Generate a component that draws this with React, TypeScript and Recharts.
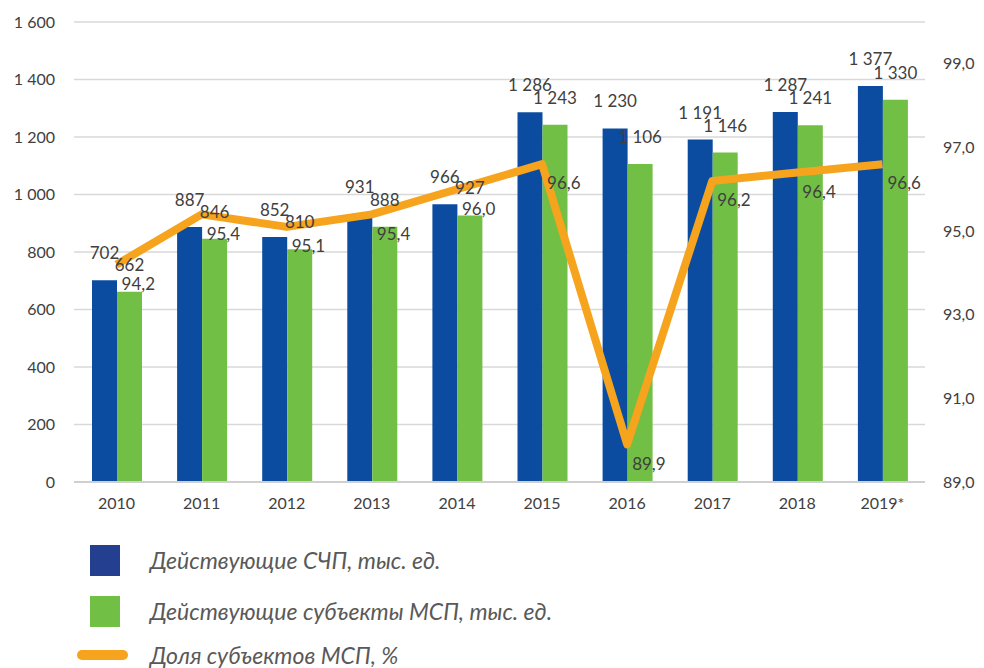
import { Bar, CartesianGrid, ComposedChart, LabelList, Line, XAxis, YAxis } from 'recharts';

const years = ['2010', '2011', '2012', '2013', '2014', '2015', '2016', '2017', '2018', '2019*'];
const activeSchp = [702, 887, 852, 931, 966, 1286, 1230, 1191, 1287, 1377];
const activeMsp = [662, 846, 810, 888, 927, 1243, 1106, 1146, 1241, 1330];
const mspShare = [94.2, 95.4, 95.1, 95.4, 96.0, 96.6, 89.9, 96.2, 96.4, 96.6];

const countTicks = [0, 200, 400, 600, 800, 1000, 1200, 1400, 1600];
const shareTicks = [89, 91, 93, 95, 97, 99];

const legendItems = [
  { label: 'Действующие СЧП, тыс. ед.', color: '#243F8F', kind: 'box' },
  { label: 'Действующие субъекты МСП, тыс. ед.', color: '#71BF44', kind: 'box' },
  { label: 'Доля субъектов МСП, %', color: '#F6A31E', kind: 'line' }
];

const chartData = years.map((year, i) => ({
  year,
  schp: activeSchp[i],
  msp: activeMsp[i],
  share: mspShare[i]
}));

const FONT = 'Lato, "Open Sans", sans-serif';
const TEXT = '#404040';

// non-breaking space so Recharts doesn't wrap "1 286"
function formatThousands(value: number) {
  return String(value).replace(/\B(?=(\d{3})+(?!\d))/g, '\u00A0');
}

function formatShare(value: number) {
  return value.toFixed(1).replace('.', ',');
}

function ShareLabel(props: any) {
  const { x, y, value } = props;
  if (x == null || y == null) return null;
  return (
    <text
      x={Number(x) + 5}
      y={Number(y) + 21}
      dominantBaseline="middle"
      textAnchor="start"
      fontSize={17}
      fontFamily={FONT}
      fill={TEXT}
    >
      {formatShare(Number(value))}
    </text>
  );
}

export default function App() {
  const tickStyle = { fontSize: 16, fill: TEXT, fontFamily: FONT };
  const barLabelStyle = { fontSize: 17, fill: TEXT, fontFamily: FONT };

  return (
    <div style={{ position: 'absolute', left: 0, top: 0, width: 984, height: 668, background: '#fff', overflow: 'hidden' }}>
      <ComposedChart
        width={984}
        height={530}
        data={chartData}
        margin={{ top: 22, right: 0, bottom: 18, left: 0 }}
        barGap={0}
      >
        <CartesianGrid yAxisId="count" vertical={false} stroke="#d9d9d9" strokeWidth={1.5} />
        <XAxis
          dataKey="year"
          height={30}
          tickLine={false}
          axisLine={{ stroke: '#cfcfcf', strokeWidth: 2 }}
          tickMargin={10}
          tick={tickStyle}
        />
        <YAxis
          yAxisId="count"
          orientation="left"
          width={74}
          domain={[0, 1600]}
          ticks={countTicks}
          tickFormatter={formatThousands}
          tickLine={false}
          axisLine={false}
          tickMargin={13}
          tick={tickStyle}
        />
        <YAxis
          yAxisId="share"
          orientation="right"
          width={59}
          domain={[89, 100]}
          ticks={shareTicks}
          tickFormatter={formatShare}
          tickLine={false}
          axisLine={false}
          tickMargin={12}
          tick={{ ...tickStyle, textAnchor: 'start' }}
        />
        <Bar yAxisId="count" dataKey="schp" fill="#0B4CA0" barSize={25} isAnimationActive={false}>
          <LabelList
            dataKey="schp"
            position="top"
            offset={21}
            formatter={(v: any) => formatThousands(Number(v))}
            style={barLabelStyle}
          />
        </Bar>
        <Bar yAxisId="count" dataKey="msp" fill="#71BF44" barSize={25} isAnimationActive={false}>
          <LabelList
            dataKey="msp"
            position="top"
            offset={21}
            formatter={(v: any) => formatThousands(Number(v))}
            style={barLabelStyle}
          />
        </Bar>
        <Line
          yAxisId="share"
          dataKey="share"
          type="linear"
          stroke="#F6A31E"
          strokeWidth={8}
          strokeLinejoin="round"
          dot={false}
          activeDot={false}
          isAnimationActive={false}
        >
          <LabelList dataKey="share" content={<ShareLabel />} />
        </Line>
      </ComposedChart>

      {legendItems.map((item, i) => {
        const centerY = [560, 611, 655][i];
        return (
          <div key={item.label}>
            {item.kind === 'box' ? (
              <span style={{ position: 'absolute', left: 90, top: centerY - 15, width: 30, height: 31, background: item.color }} />
            ) : (
              <span style={{ position: 'absolute', left: 77, top: centerY - 5, width: 51, height: 10, borderRadius: 5, background: item.color }} />
            )}
            <span
              style={{
                position: 'absolute',
                left: 150,
                top: centerY - 15,
                whiteSpace: 'nowrap',
                fontFamily: FONT,
                fontStyle: 'italic',
                fontSize: 23,
                color: '#595959',
                lineHeight: '30px'
              }}
            >
              {item.label}
            </span>
          </div>
        );
      })}
    </div>
  );
}
